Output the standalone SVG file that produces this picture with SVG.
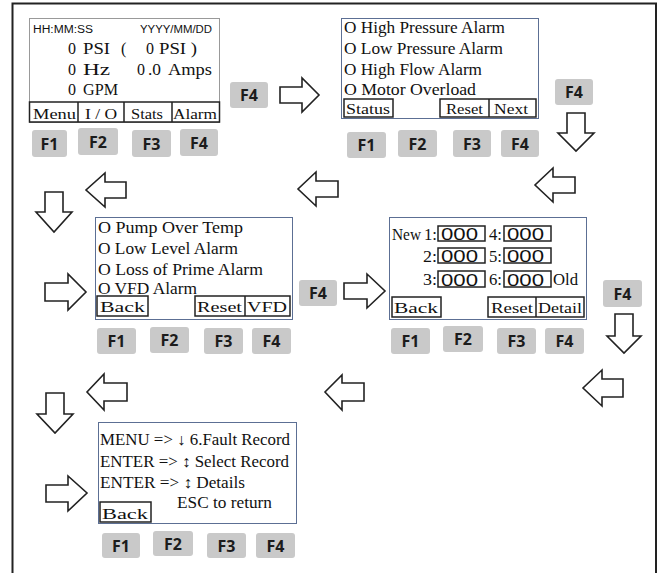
<svg xmlns="http://www.w3.org/2000/svg" width="662" height="573" viewBox="0 0 662 573">
<style>
.frame{fill:none;stroke:#222;stroke-width:2}
.scr{fill:#fff;stroke:#5c6f94;stroke-width:1}
.scr1{fill:#fff;stroke:#999;stroke-width:1}
.btn{fill:none;stroke:#222;stroke-width:1.5}
.t{font-family:"Liberation Serif","Times New Roman",serif;font-size:16px;fill:#111}
.b{font-family:"Liberation Serif","Times New Roman",serif;font-size:15px;fill:#111}
.s{font-family:"Liberation Sans",Arial,sans-serif;font-size:10px;fill:#111}
.d{font-family:"Liberation Sans",Arial,sans-serif;font-size:16px;fill:#111}
.fk rect{fill:#c9c9c9;stroke:none}
.fk text{font-family:"Open Sans","DejaVu Sans",sans-serif;font-size:16px;font-weight:700;fill:#1c1c1c;text-anchor:middle}
.ar{fill:#fff;stroke:#222;stroke-width:1.6;stroke-linejoin:miter}
</style>
<rect width="662" height="573" fill="#fff"/>
<path class="frame" d="M12.5,573 V3.5 H656 V573"/>

<g id="screen-main">
<rect class="scr1" x="29.5" y="18.5" width="190" height="104"/>
<text class="s" x="33" y="33" textLength="60" lengthAdjust="spacingAndGlyphs">HH:MM:SS</text>
<text class="s" x="140" y="33" textLength="72" lengthAdjust="spacingAndGlyphs">YYYY/MM/DD</text>
<text class="t" x="68" y="54">0</text>
<text class="t" x="83" y="54" textLength="27" lengthAdjust="spacingAndGlyphs">PSI</text>
<text class="t" x="121" y="54">(</text>
<text class="t" x="146" y="54">0</text>
<text class="t" x="159" y="54" textLength="38" lengthAdjust="spacingAndGlyphs">PSI )</text>
<text class="t" x="68" y="75">0</text>
<text class="t" x="83" y="75" textLength="27" lengthAdjust="spacingAndGlyphs">Hz</text>
<text class="t" x="137" y="75">0</text>
<text class="t" x="148" y="75" textLength="13" lengthAdjust="spacingAndGlyphs">.0</text>
<text class="t" x="168" y="75" textLength="44" lengthAdjust="spacingAndGlyphs">Amps</text>
<text class="t" x="68" y="95">0</text>
<text class="t" x="83" y="95" textLength="35" lengthAdjust="spacingAndGlyphs">GPM</text>
<path class="btn" d="M29.5,102 H219.5 V122 H29.5 Z M78,102 V122 M124,102 V122 M172,102 V122"/>
<text class="b" x="33" y="119" textLength="43" lengthAdjust="spacingAndGlyphs">Menu</text>
<text class="b" x="85" y="119" textLength="32" lengthAdjust="spacingAndGlyphs">I / O</text>
<text class="b" x="131" y="119" textLength="32" lengthAdjust="spacingAndGlyphs">Stats</text>
<text class="b" x="173" y="119" textLength="44" lengthAdjust="spacingAndGlyphs">Alarm</text>
</g>
<g id="keys-main" class="fk">
<rect x="32" y="130" width="35" height="27" rx="3"/><text x="49.5" y="149.5">F1</text>
<rect x="78" y="128" width="40" height="27" rx="3"/><text x="98" y="147.5">F2</text>
<rect x="132" y="130" width="39" height="27" rx="3"/><text x="151.5" y="149.5">F3</text>
<rect x="180" y="129" width="38" height="27" rx="3"/><text x="199" y="148.5">F4</text>
</g>
<g id="key-f4-a" class="fk"><rect x="230" y="82" width="38" height="26" rx="3"/><text x="249" y="101">F4</text></g>

<g id="screen-alarm1">
<rect class="scr" x="341.5" y="18.5" width="197" height="100"/>
<text class="t" x="344" y="33" textLength="161" lengthAdjust="spacingAndGlyphs">O High Pressure Alarm</text>
<text class="t" x="344" y="54" textLength="159" lengthAdjust="spacingAndGlyphs">O Low Pressure Alarm</text>
<text class="t" x="344" y="75" textLength="138" lengthAdjust="spacingAndGlyphs">O High Flow Alarm</text>
<text class="t" x="344" y="95" textLength="132" lengthAdjust="spacingAndGlyphs">O Motor Overload</text>
<path class="btn" d="M344,99 H393 V117 H344 Z M440,99 H536 V117 H440 Z M489,99 V117"/>
<text class="b" x="346" y="114" textLength="44" lengthAdjust="spacingAndGlyphs">Status</text>
<text class="b" x="446" y="114" textLength="37" lengthAdjust="spacingAndGlyphs">Reset</text>
<text class="b" x="494" y="114" textLength="34" lengthAdjust="spacingAndGlyphs">Next</text>
</g>
<g id="keys-alarm1" class="fk">
<rect x="347" y="132" width="39" height="26" rx="3"/><text x="366.5" y="151">F1</text>
<rect x="398" y="130" width="39" height="27" rx="3"/><text x="417.5" y="149.5">F2</text>
<rect x="453" y="130" width="38" height="27" rx="3"/><text x="472" y="149.5">F3</text>
<rect x="501" y="130" width="38" height="27" rx="3"/><text x="520" y="149.5">F4</text>
</g>
<g id="key-f4-b" class="fk"><rect x="555" y="79" width="38" height="26" rx="3"/><text x="574" y="98">F4</text></g>

<g id="screen-alarm2">
<rect class="scr" x="95.5" y="217.5" width="197" height="102"/>
<text class="t" x="98" y="233" textLength="145" lengthAdjust="spacingAndGlyphs">O Pump Over Temp</text>
<text class="t" x="98" y="254" textLength="140" lengthAdjust="spacingAndGlyphs">O Low Level Alarm</text>
<text class="t" x="98" y="275" textLength="165" lengthAdjust="spacingAndGlyphs">O Loss of Prime Alarm</text>
<text class="t" x="98" y="294" textLength="99" lengthAdjust="spacingAndGlyphs">O VFD Alarm</text>
<path class="btn" d="M97,296 H148 V316 H97 Z M195,296 H290 V316 H195 Z M245,296 V316"/>
<text class="b" x="100" y="312" textLength="45" lengthAdjust="spacingAndGlyphs">Back</text>
<text class="b" x="197" y="312" textLength="45" lengthAdjust="spacingAndGlyphs">Reset</text>
<text class="b" x="247" y="312" textLength="40" lengthAdjust="spacingAndGlyphs">VFD</text>
</g>
<g id="keys-alarm2" class="fk">
<rect x="97" y="328" width="39" height="26" rx="3"/><text x="116.5" y="347">F1</text>
<rect x="150" y="327" width="39" height="26" rx="3"/><text x="169.5" y="346">F2</text>
<rect x="204" y="328" width="39" height="26" rx="3"/><text x="223.5" y="347">F3</text>
<rect x="252" y="328" width="39" height="26" rx="3"/><text x="271.5" y="347">F4</text>
</g>
<g id="key-f4-c" class="fk"><rect x="299" y="280" width="38" height="26" rx="3"/><text x="318" y="299">F4</text></g>

<g id="screen-record">
<rect class="scr" x="389.5" y="217.5" width="197" height="102"/>
<text class="t" x="392" y="240" textLength="29" lengthAdjust="spacingAndGlyphs">New</text>
<text class="t" x="424" y="240" textLength="13" lengthAdjust="spacingAndGlyphs">1:</text>
<text class="t" x="423" y="262" textLength="14" lengthAdjust="spacingAndGlyphs">2:</text>
<text class="t" x="423" y="285" textLength="14" lengthAdjust="spacingAndGlyphs">3:</text>
<text class="t" x="489" y="240" textLength="13" lengthAdjust="spacingAndGlyphs">4:</text>
<text class="t" x="489" y="262" textLength="13" lengthAdjust="spacingAndGlyphs">5:</text>
<text class="t" x="489" y="285" textLength="13" lengthAdjust="spacingAndGlyphs">6:</text>
<text class="t" x="553" y="285" textLength="25" lengthAdjust="spacingAndGlyphs">Old</text>
<rect class="btn" x="438" y="226" width="47" height="15"/>
<rect class="btn" x="438" y="248" width="47" height="15"/>
<rect class="btn" x="438" y="271" width="47" height="16"/>
<rect class="btn" x="504" y="226" width="47" height="15"/>
<rect class="btn" x="504" y="248" width="47" height="15"/>
<rect class="btn" x="504" y="271" width="47" height="16"/>
<text class="d" x="441" y="240" textLength="37" lengthAdjust="spacingAndGlyphs">000</text>
<text class="d" x="441" y="262" textLength="37" lengthAdjust="spacingAndGlyphs">000</text>
<text class="d" x="441" y="285.5" textLength="37" lengthAdjust="spacingAndGlyphs">000</text>
<text class="d" x="507" y="240" textLength="37" lengthAdjust="spacingAndGlyphs">000</text>
<text class="d" x="507" y="262" textLength="37" lengthAdjust="spacingAndGlyphs">000</text>
<text class="d" x="507" y="285.5" textLength="37" lengthAdjust="spacingAndGlyphs">000</text>
<path class="btn" d="M392,297 H441 V317 H392 Z M488,297 H584 V317 H488 Z M536,297 V317"/>
<text class="b" x="394" y="313" textLength="44" lengthAdjust="spacingAndGlyphs">Back</text>
<text class="b" x="491" y="313" textLength="42" lengthAdjust="spacingAndGlyphs">Reset</text>
<text class="b" x="538" y="313" textLength="44" lengthAdjust="spacingAndGlyphs">Detail</text>
</g>
<g id="keys-record" class="fk">
<rect x="391" y="328" width="39" height="26" rx="3"/><text x="410.5" y="347">F1</text>
<rect x="443" y="326" width="40" height="26" rx="3"/><text x="463" y="345">F2</text>
<rect x="497" y="328" width="39" height="26" rx="3"/><text x="516.5" y="347">F3</text>
<rect x="545" y="328" width="39" height="26" rx="3"/><text x="564.5" y="347">F4</text>
</g>
<g id="key-f4-d" class="fk"><rect x="603" y="280" width="39" height="27" rx="3"/><text x="622.5" y="299.5">F4</text></g>

<g id="screen-help">
<rect class="scr" x="98.5" y="422.5" width="198" height="101"/>
<text class="t" x="100" y="445" textLength="190" lengthAdjust="spacingAndGlyphs">MENU =&gt; ↓ 6.Fault Record</text>
<text class="t" x="100" y="467" textLength="189" lengthAdjust="spacingAndGlyphs">ENTER =&gt; ↕ Select Record</text>
<text class="t" x="100" y="488" textLength="145" lengthAdjust="spacingAndGlyphs">ENTER =&gt; ↕ Details</text>
<text class="t" x="177" y="508" textLength="95" lengthAdjust="spacingAndGlyphs">ESC to return</text>
<rect class="btn" x="100" y="502" width="51" height="20"/>
<text class="b" x="102" y="519" textLength="46" lengthAdjust="spacingAndGlyphs">Back</text>
</g>
<g id="keys-help" class="fk">
<rect x="102" y="533" width="38" height="25" rx="3"/><text x="121" y="551.5">F1</text>
<rect x="153" y="531" width="40" height="25" rx="3"/><text x="173" y="549.5">F2</text>
<rect x="207" y="533" width="39" height="25" rx="3"/><text x="226.5" y="551.5">F3</text>
<rect x="256" y="533" width="39" height="25" rx="3"/><text x="275.5" y="551.5">F4</text>
</g>

<g id="connectors">
<path class="ar" d="M280,87 H302 V78 L319,95 L302,112 V103 H280 Z"/>
<path class="ar" d="M567,113 V133 H558 L576,151 L594,133 H585 V113 Z"/>
<path class="ar" d="M575,177 H553 V168 L535,185 L553,202 V193 H575 Z"/>
<path class="ar" d="M338,181 H316 V172 L298,189 L316,206 V197 H338 Z"/>
<path class="ar" d="M126,182 H105 V173 L86,190 L105,207 V198 H126 Z"/>
<path class="ar" d="M45,192 V212 H36 L54,232 L72,212 H63 V192 Z"/>
<path class="ar" d="M45,283 H68 V274 L86,292 L68,310 V301 H45 Z"/>
<path class="ar" d="M344,283 H367 V274 L385,291 L367,308 V299 H344 Z"/>
<path class="ar" d="M615,314 V336 H607 L624,353 L641,336 H633 V314 Z"/>
<path class="ar" d="M623,379 H602 V370 L583,388 L602,406 V397 H623 Z"/>
<path class="ar" d="M364,383 H342 V375 L325,392 L342,410 V401 H364 Z"/>
<path class="ar" d="M127,383 H104 V374 L87,392 L104,410 V401 H127 Z"/>
<path class="ar" d="M46,393 V414 H37 L55,433 L73,414 H64 V393 Z"/>
<path class="ar" d="M46,485 H68 V476 L87,493 L68,511 V502 H46 Z"/>
</g>
</svg>
